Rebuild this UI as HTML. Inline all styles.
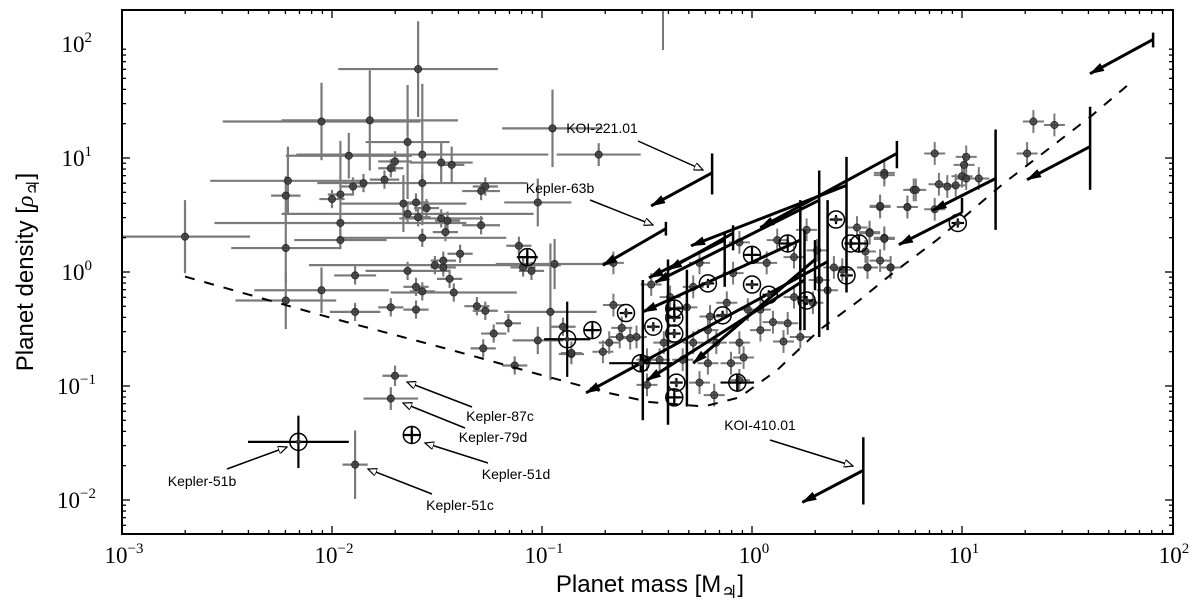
<!DOCTYPE html>
<html><head><meta charset="utf-8"><style>
html,body{margin:0;padding:0;background:#fff;}
svg{display:block;}
text{font-family:"Liberation Sans","DejaVu Sans",sans-serif;}
.tk{font-family:"Liberation Serif","DejaVu Serif",serif;font-size:23px;}
.jup{font-family:"DejaVu Sans",sans-serif;}
</style></head><body>
<svg id="chart" width="1200" height="613" viewBox="0 0 1200 613" xmlns="http://www.w3.org/2000/svg"></svg>
<script>
// ---- data (log10 mass [MJ], log10 density [rhoJ]) ----
const ptLogMass   = [-2.70,-1.59,-2.05,-1.82,-0.95,-1.64,-1.92,-1.57,-1.70,-1.48,-1.43,-1.72,-2.21,-1.75,-1.85,-1.90,-1.57,-1.27,-1.29,-2.22,-2.00,-1.96,-1.66,-1.60,-1.55,-1.64,-1.59,-1.48,-1.45,-1.29,-1.02,-1.96,-1.46,-1.96,-1.57,-2.22,-1.39,-1.11,-0.94,-1.09,-1.05,-1.51,-1.47,-1.47,-1.89,-1.64,-1.44,-2.05,-1.60,-1.57,-1.42,-2.22,-1.72,-1.31,-1.89,-1.60,-1.27,-0.96,-1.16,-1.23,-1.02,-1.28,-1.13,-0.90,-0.86,-1.70,-1.72,-1.89,-0.73];
const ptLogDens   = [0.31,1.78,1.32,1.33,1.26,1.14,1.02,1.03,0.97,0.96,0.94,0.91,0.80,0.81,0.78,0.75,0.78,0.75,0.71,0.67,0.64,0.68,0.60,0.61,0.56,0.51,0.48,0.47,0.45,0.41,0.61,0.43,0.35,0.28,0.30,0.21,0.16,0.23,0.07,0.04,0.01,0.06,0.04,0.10,-0.03,0.01,-0.06,-0.16,-0.13,-0.17,-0.18,-0.25,-0.31,-0.30,-0.35,-0.33,-0.34,-0.35,-0.45,-0.54,-0.60,-0.67,-0.82,-0.48,-0.72,-0.91,-1.11,-1.69,1.03];
const ptMassErr   = [0.31,0.38,0.47,0.42,0.24,0.2,0.3,0.6,0.08,0.15,0.06,0.06,0.37,0.07,0.06,0.06,0.5,0.06,0.09,0.07,0.06,0.06,0.3,0.06,0.06,0.6,0.06,0.2,0.06,0.09,0.16,0.6,0.06,0.22,0.4,0.26,0.06,0.06,0.28,0.06,0.06,0.6,0.06,0.06,0.1,0.2,0.06,0.32,0.06,0.06,0.3,0.24,0.06,0.06,0.12,0.06,0.06,0.22,0.06,0.06,0.12,0.06,0.06,0.06,0.06,0.06,0.13,0.06,0.2];
const ptDensErr   = [0.32,0.42,0.34,0.44,0.34,0.5,0.2,0.62,0.09,0.17,0.16,0.08,0.3,0.08,0.08,0.08,0.08,0.08,0.08,0.17,0.08,0.47,0.25,0.08,0.08,0.08,0.08,0.08,0.08,0.08,0.21,0.08,0.08,0.08,0.08,0.3,0.08,0.08,0.22,0.08,0.08,0.08,0.08,0.08,0.08,0.08,0.08,0.2,0.08,0.08,0.08,0.25,0.08,0.08,0.08,0.08,0.08,0.6,0.08,0.08,0.12,0.08,0.08,0.08,0.08,0.09,0.1,0.3,0.1];
// dense cluster (small errors)
const clLogMass = [-0.66,-0.48,-0.66,-0.86,-0.71,-0.68,-0.62,-0.58,-0.50,-0.06,0.12,0.26,0.50,0.56,0.63,0.61,0.74,0.77,0.63,0.55,0.66,0.39,0.32,0.20,0.10,0.15,-0.04,-0.10,-0.25,-0.44,-0.50,-0.55,-0.28,-0.21,-0.17,-0.12,-0.02,0.04,0.07,0.20,0.31,-0.25,-0.28,-0.09,-0.39,-0.31,-0.20,-0.42,-0.33,-0.21,-0.06,0.04,0.17,0.23,0.29,0.36,0.43,-0.63,1.34,1.44,1.31,0.87,0.63,0.78,0.89,0.93,0.97,1.00,1.01,1.02,1.02,1.08,0.61,0.74,0.87,0.56,0.63,0.54,0.61,0.55,0.66,-0.18,-0.06];
const clLogDens = [0.08,-0.11,-0.29,-0.71,-0.70,-0.62,-0.49,-0.58,-0.99,0.26,0.28,0.37,0.39,0.35,0.30,0.57,0.57,0.72,0.87,0.04,0.04,0.04,-0.07,-0.22,-0.44,-0.61,-0.75,-0.80,-0.97,-0.77,-0.77,-0.57,-0.62,-0.51,-0.62,-0.27,-0.33,-0.33,0.08,0.13,0.19,0.08,-0.13,-0.01,-0.22,-0.31,-0.39,-0.62,-0.77,-0.80,-0.62,-0.51,-0.45,-0.57,-0.27,-0.16,0.02,-0.57,1.32,1.29,1.04,1.04,0.85,0.72,0.77,0.75,0.76,0.84,0.94,1.01,0.82,0.82,0.58,0.57,0.55,0.34,0.29,0.18,0.10,0.04,0.04,-1.08,-0.95];
// open circles: type 1 = with cross
const ciLogMass = [-1.07,-2.16,-1.62,-0.88,-0.76,-0.60,-0.53,-0.47,-0.36,-0.37,-0.37,-0.37,-0.37,-0.21,-0.14,0.00,0.17,0.00,0.08,0.26,0.40,0.47,0.51,0.45,-0.07,0.98];
const ciLogDens = [0.13,-1.49,-1.43,-0.59,-0.51,-0.36,-0.80,-0.48,-0.97,-1.10,-0.40,-0.32,-0.54,-0.10,-0.38,0.15,0.25,-0.11,-0.20,-0.25,0.46,0.25,0.25,-0.03,-0.97,0.43];
const ciCross   = [1,0,1,0,1,0,0,0,0,1,0,1,0,0,0,1,1,0,0,0,0,0,1,0,1,0];
const ciMassErr = [0.05,0.24,0.04,0.11,0.03,0.03,0.15,0.03,0.03,0.03,0.03,0.03,0.03,0.03,0.03,0.03,0.03,0.03,0.03,0.03,0.03,0.03,0.03,0.03,0.08,0.03];
const ciDensErr = [0.06,0.23,0.04,0.33,0.04,0.04,0.08,0.04,0.04,0.04,0.04,0.04,0.04,0.04,0.04,0.04,0.04,0.04,0.04,0.04,0.04,0.04,0.04,0.04,0.08,0.04];
// upper-limit arrows: bar at tail mass, bar range, tail density, head
const arTailMass = [-0.19,-0.41,0.69,0.45,0.32,-0.09,-0.13,0.23,0.36,0.25,0.30,1.16,1.00,1.61,1.91,0.53];
const arBarHi    = [1.04,0.44,1.15,1.01,0.89,0.41,0.34,0.63,0.63,0.37,0.28,1.25,0.65,1.45,2.10,-1.45];
const arBarLo    = [0.68,0.32,0.91,-0.18,-0.57,0.19,-0.13,-0.51,-0.51,-0.51,-0.16,0.37,0.52,0.72,1.97,-2.04];
const arTailDens = [0.87,0.38,1.04,0.76,0.63,0.34,0.28,0.28,0.09,-0.07,0.11,0.82,0.52,1.10,2.04,-1.74];
const arHeadMass = [-0.48,-0.71,0.04,-0.29,-0.46,-0.40,-0.49,-0.52,-0.79,-0.50,-0.28,0.86,0.70,1.31,1.61,0.24];
const arHeadDens = [0.58,0.06,0.39,0.23,-0.09,0.02,-0.05,-0.35,-1.06,-0.95,-0.80,0.54,0.24,0.81,1.74,-2.02];
// extra black error bars
const bbLogMass = [-0.52,-0.40,-0.31];
const bbHi = [-0.07,0.11,0.02];
const bbLo = [-1.30,-1.34,-1.18];
// dashed limit curve
const dcLogMass = [-2.70,-2.01,-1.44,-1.01,-0.71,-0.49,-0.23,-0.06,0.12,0.32,0.51,0.67,0.88,1.20,1.61,1.79];
const dcLogDens = [-0.04,-0.40,-0.68,-0.90,-1.05,-1.14,-1.18,-1.10,-0.86,-0.51,-0.25,-0.01,0.28,0.78,1.36,1.64];
// annotations
const annNames = ["KOI-221.01","Kepler-63b","Kepler-87c","Kepler-79d","Kepler-51d","Kepler-51c","Kepler-51b","KOI-410.01"];
const annTextX = [602,560,500,493,516,460,202,760];
const annTextY = [133,193,421,442,479,510,486,430];
const xTickExp = [-3,-2,-1,0,1,2];
const yTickExp = [2,1,0,-1,-2];

// ---- scales ----
const L=122,R=1173,T=10,B=534;
const X = lm => 752 + 210*lm;
const Y = lr => 272 - 114*lr;
const NS="http://www.w3.org/2000/svg";
const svg=document.getElementById('chart');
function mk(tag,attrs,parent){const e=document.createElementNS(NS,tag);for(const k in attrs)e.setAttribute(k,attrs[k]);(parent||svg).appendChild(e);return e;}
function line(x1,y1,x2,y2,st,w,p){return mk('line',{x1,y1,x2,y2,stroke:st,'stroke-width':w},p);}

mk('rect',{x:0,y:0,width:1200,height:613,fill:'#fff'});
const defs=mk('defs',{});
const clip=mk('clipPath',{id:'pc'},defs);mk('rect',{x:L,y:T,width:R-L,height:B-T},clip);
const mkr=mk('marker',{id:'ah',markerWidth:15,markerHeight:10,refX:14,refY:5,orient:'auto',markerUnits:'userSpaceOnUse'},defs);
mk('path',{d:'M0,0.5 L15,5 L0,9.5 Z',fill:'#000'},mkr);
const mko=mk('marker',{id:'ao',markerWidth:10,markerHeight:8,refX:9,refY:4,orient:'auto',markerUnits:'userSpaceOnUse'},defs);
mk('path',{d:'M0,0 L9,4 L0,8 Z',fill:'#fff',stroke:'#000','stroke-width':1.2},mko);

const plot=mk('g',{'clip-path':'url(#pc)'});



// grey bar off-chart
line(663,10,663,50,'#777',2,plot);

// grey points
const gp=mk('g',{},plot);


ptLogMass.forEach((m,i)=>{
  const d=ptLogDens[i];
  line(X(m-ptMassErr[i]),Y(d),X(m+ptMassErr[i]),Y(d),'#7a7a7a',2.2,gp);
  line(X(m),Y(d-ptDensErr[i]),X(m),Y(d+ptDensErr[i]),'#7a7a7a',2.2,gp);
});
clLogMass.forEach((m,i)=>{
  const d=clLogDens[i];
  line(X(m-0.05),Y(d),X(m+0.05),Y(d),'#7a7a7a',2,gp);
  line(X(m),Y(d-0.1),X(m),Y(d+0.1),'#7a7a7a',2,gp);
});
ptLogMass.forEach((m,i)=>{
  const c=mk('circle',{cx:X(m),cy:Y(ptLogDens[i]),r:3.6,fill:'#3a3a3a','fill-opacity':0.85,stroke:'#222','stroke-width':0.8},gp);
  
  
});
clLogMass.forEach((m,i)=>{
  const c=mk('circle',{cx:X(m),cy:Y(clLogDens[i]),r:3.6,fill:'#3a3a3a','fill-opacity':0.8,stroke:'#222','stroke-width':0.8},gp);
  
  
});

// dashed curve
const dpts=dcLogMass.map((m,i)=>X(m)+','+Y(dcLogDens[i])).join(' ');
const dc=mk('polyline',{points:dpts,fill:'none',stroke:'#000','stroke-width':2,'stroke-dasharray':'10,10'},plot);



// black bars
bbLogMass.forEach((m,i)=>{
  const b=line(X(m),Y(bbHi[i]),X(m),Y(bbLo[i]),'#000',2.5,plot);
  
  
});

// arrows
arTailMass.forEach((m,i)=>{
  const g=mk('g',{},plot);
  
  
  line(X(m),Y(arBarHi[i]),X(m),Y(arBarLo[i]),'#000',2.5,g);
  const a=line(X(m),Y(arTailDens[i]),X(arHeadMass[i]),Y(arHeadDens[i]),'#000',3,g);
  a.setAttribute('marker-end','url(#ah)');
});

// open circles
ciLogMass.forEach((m,i)=>{
  const g=mk('g',{},plot);
  
  
  const cx=X(m),cy=Y(ciLogDens[i]);
  line(X(m-ciMassErr[i]),cy,X(m+ciMassErr[i]),cy,'#000',2.2,g);
  line(cx,Y(ciLogDens[i]-ciDensErr[i]),cx,Y(ciLogDens[i]+ciDensErr[i]),'#000',2.2,g);
  mk('circle',{cx,cy,r:8.5,fill:'none',stroke:'#000','stroke-width':1.5},g);
  if(ciCross[i]){line(cx-8,cy,cx+8,cy,'#000',2,g);line(cx,cy-8,cx,cy+8,'#000',2,g);}
  else mk('circle',{cx,cy,r:2.5,fill:'#333'},g);
});

// annotations
const annArrows=[[638,141,703,170],[590,200,653,225],[472,407,407,382],[465,428,403,403],[488,463,425,443],[432,494,368,469],[227,469,287,447],[770,440,853,466]];
annNames.forEach((n,i)=>{
  const g=mk('g',{});
  
  
  const a=annArrows[i];
  const l=line(a[0],a[1],a[2],a[3],'#000',1.5,g);
  l.setAttribute('marker-end','url(#ao)');
  const t=mk('text',{x:annTextX[i],y:annTextY[i],'text-anchor':'middle','font-size':14,fill:'#000'},g);
  t.textContent=n;
});

// axes frame
const ax=mk('g',{});


mk('rect',{x:L,y:T,width:R-L,height:B-T,fill:'none',stroke:'#000','stroke-width':2},ax);
for(let e=-3;e<2;e++){for(let k=1;k<10;k++){const x=X(e+Math.log10(k));const len=k===1?8:4;
  line(x,B,x,B-len,'#000',1.3,ax);line(x,T,x,T+len,'#000',1.3,ax);}}
xTickExp.forEach(e=>{const t=mk('text',{x:X(e)+2,y:563,'text-anchor':'middle',class:'tk'},ax);
  
  
  t.innerHTML='10<tspan dy="-10" font-size="15">'+(e<0?'\u2212'+(-e):e)+'</tspan>';});
for(let e=-3;e<2;e++){for(let k=1;k<10;k++){const lv=e+Math.log10(k);const y=Y(lv);if(y<T||y>B)continue;const len=k===1?8:4;
  line(L,y,L+len,y,'#000',1.3,ax);line(R,y,R-len,y,'#000',1.3,ax);}}
yTickExp.forEach(e=>{const t=mk('text',{x:e<0?96:92,y:Y(e)+8,'text-anchor':'end',class:'tk'},ax);
  
  
  t.innerHTML='10<tspan dy="-10" font-size="15">'+(e<0?'\u2212'+(-e):e)+'</tspan>';});

const xl=mk('text',{x:650,y:592,'text-anchor':'middle','font-size':24},ax);


xl.innerHTML='Planet mass [M<tspan class="jup" font-size="18" dy="6">\u2643</tspan><tspan dy="-6">]</tspan>';
const yl=mk('text',{x:0,y:0,'text-anchor':'middle','font-size':24,transform:'translate(33,272) rotate(-90)'},ax);


yl.innerHTML='Planet density [<tspan font-style="italic" font-family="Liberation Serif, serif">\u03c1</tspan><tspan class="jup" font-size="18" dy="6">\u2643</tspan><tspan dy="-6">]</tspan>';
</script>
</body></html>
